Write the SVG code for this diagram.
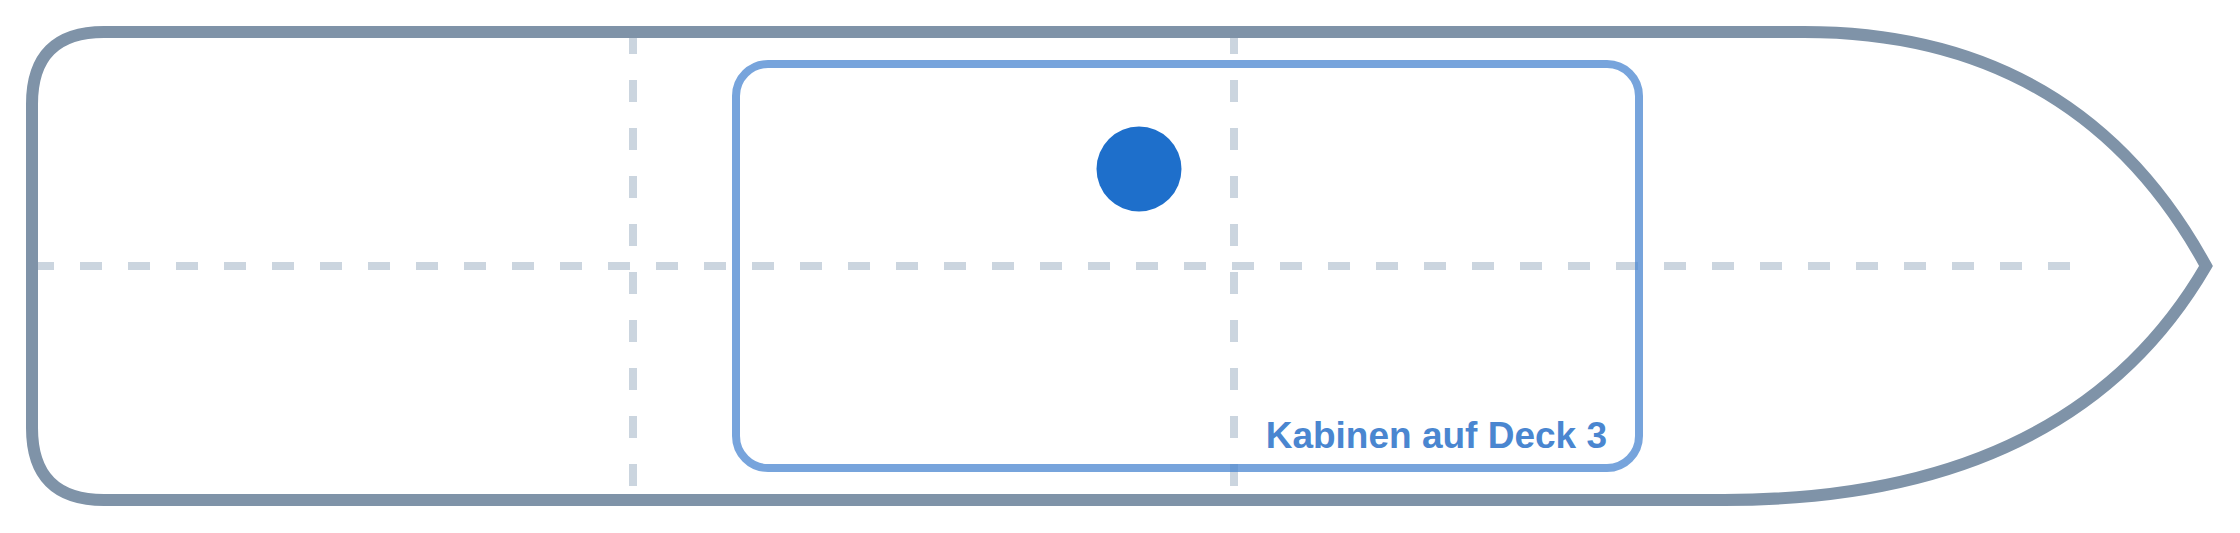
<svg xmlns="http://www.w3.org/2000/svg" width="2240" height="533" viewBox="0 0 2240 533">
  <style>
    .grid { stroke: #cbd5df; stroke-width: 8; stroke-dasharray: 22 26; fill: none; }
    .hull { stroke: #7f93a8; stroke-width: 12; fill: none; stroke-linejoin: miter; }
    .cabin { stroke: #4a86d0; stroke-opacity: 0.75; stroke-width: 8; fill: none; }
    .label { font-family: "Liberation Sans", Arial, sans-serif; font-weight: bold; font-size: 37px; fill: #4a86d0; }
  </style>
  <rect width="2240" height="533" fill="#ffffff"/>
  <g id="grid">
    <line class="grid" x1="32" y1="266" x2="2080" y2="266"/>
    <line class="grid" x1="633" y1="32" x2="633" y2="500"/>
    <line class="grid" x1="1234" y1="32" x2="1234" y2="500"/>
  </g>
  <g id="hull">
    <path class="hull" d="M 104 32 L 1804 32 Q 2078 32 2206 266 Q 2070 500 1724 500 L 104 500 Q 32 500 32 428 L 32 104 Q 32 32 104 32 Z"/>
  </g>
  <g id="cabins">
    <rect class="cabin" x="736" y="64" width="903" height="404" rx="32" ry="32"/>
    <text class="label" x="1607" y="448" text-anchor="end">Kabinen auf Deck 3</text>
  </g>
  <g id="marker">
    <circle cx="1139" cy="169" r="42.5" fill="#1e6fcb"/>
  </g>
</svg>
